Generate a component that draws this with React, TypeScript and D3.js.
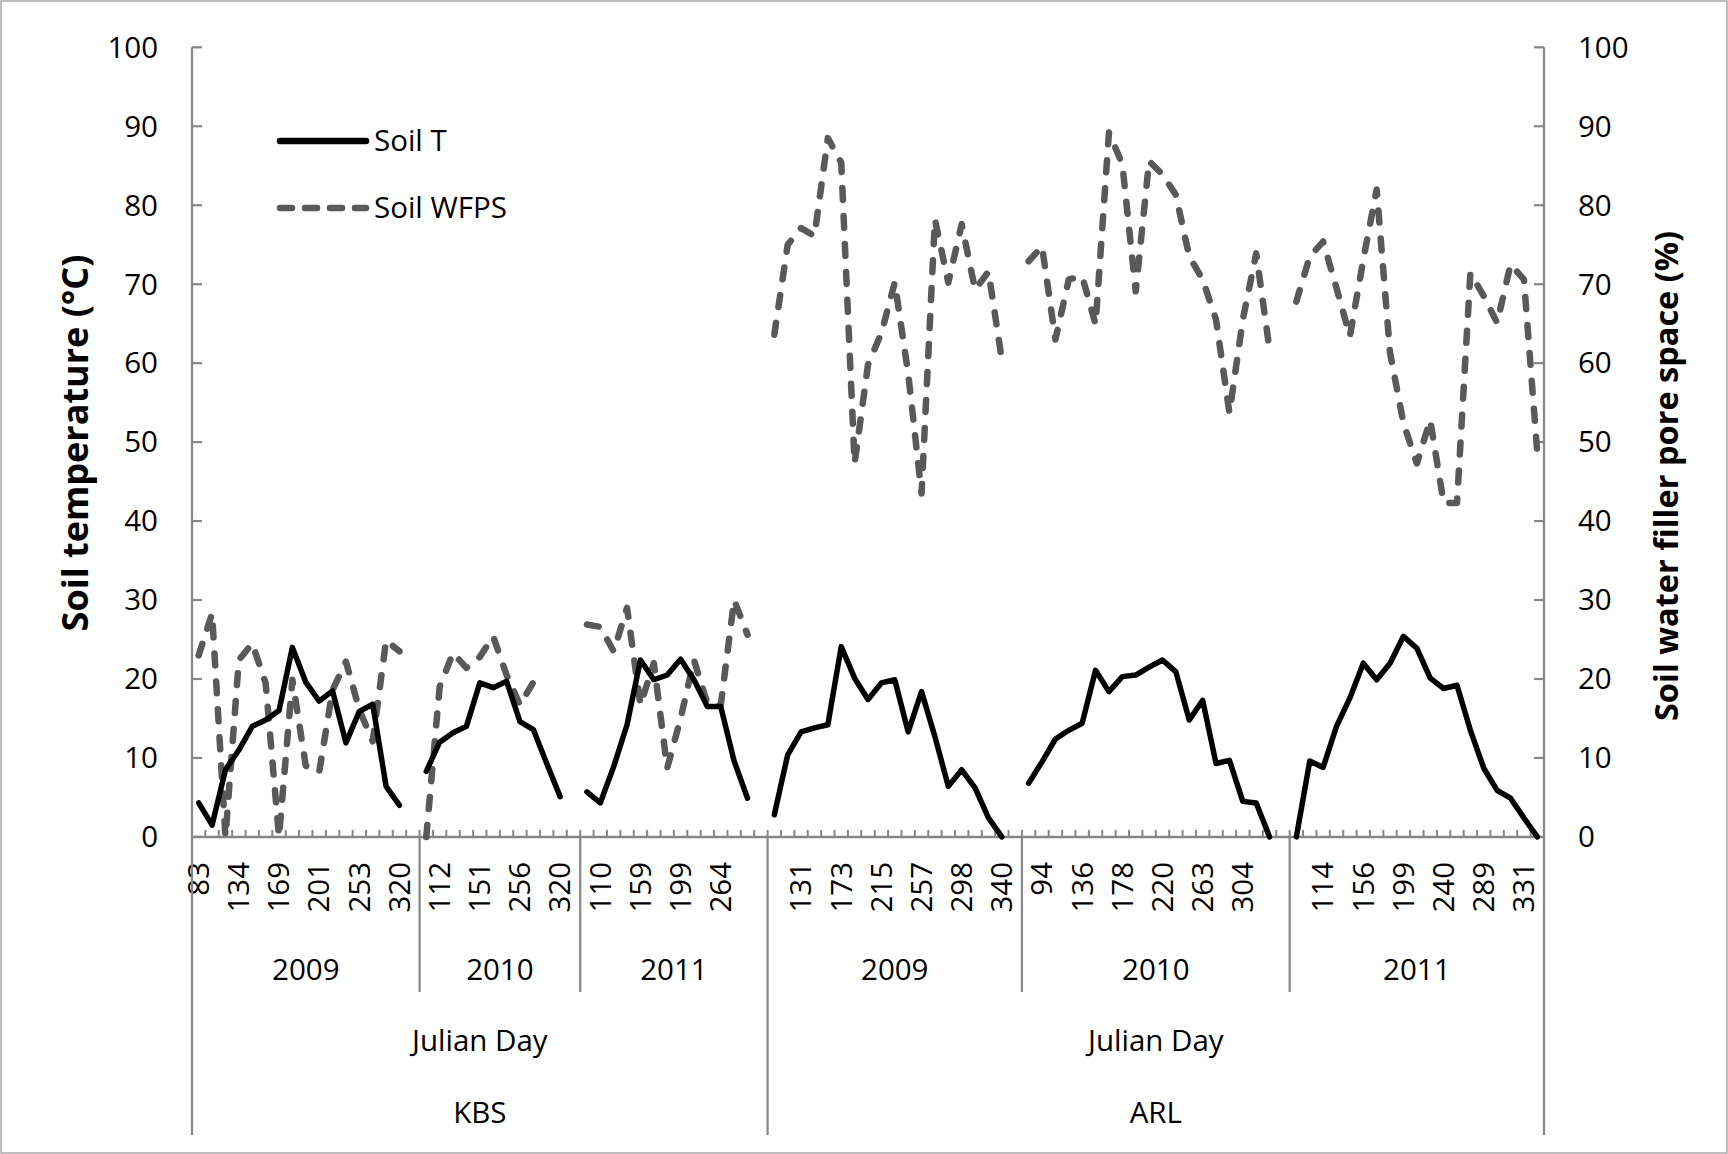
import React, { useRef, useEffect } from "react";
import * as d3 from "d3";

// category groups along the x axis (site / year), in plotting order
const groupSite = ["KBS", "KBS", "KBS", "ARL", "ARL", "ARL"];
const groupYear = ["2009", "2010", "2011", "2009", "2010", "2011"];
const groupSize = [17, 12, 14, 19, 20, 19];
const siteNames = ["KBS", "ARL"];

// Julian day labels, shown on every third category
const dayTicks = [
  "83", "134", "169", "201", "253", "320",
  "112", "151", "256", "320",
  "110", "159", "199", "264", "",
  "131", "173", "215", "257", "298", "340",
  "94", "136", "178", "220", "263", "304", "",
  "114", "156", "199", "240", "289", "331",
];

// soil temperature (°C), one value per category, null = no sample
const soilT = [
  4.3, 1.5, 8.5, 11.0, 14.0, 14.8, 16.0, 24.0, 19.6, 17.2, 18.5, 11.9, 15.9, 16.8, 6.4, 4.0, null,
  8.3, 12.0, 13.2, 14.0, 19.5, 18.9, 19.7, 14.6, 13.6, 9.3, 5.1, null,
  5.7, 4.3, 8.9, 14.2, 22.4, 19.9, 20.5, 22.5, 19.9, 16.5, 16.5, 9.6, 4.9, null,
  2.8, 10.4, 13.3, 13.8, 14.2, 24.1, 20.1, 17.4, 19.5, 19.9, 13.3, 18.4, 12.7, 6.4, 8.5, 6.2, 2.4, 0, null,
  6.8, 9.5, 12.4, 13.5, 14.4, 21.1, 18.4, 20.3, 20.5, 21.5, 22.4, 20.9, 14.8, 17.3, 9.3, 9.7, 4.5, 4.3, 0, null,
  0, 9.6, 8.8, 14.0, 17.6, 22.0, 19.9, 22.0, 25.4, 23.9, 20.1, 18.8, 19.2, 13.5, 8.7, 5.9, 4.9, 2.4, 0,
];

// soil water filled pore space (%)
const soilWFPS = [
  23.0, 28.3, 0, 22.4, 24.5, 19.5, 0, 19.9, 9.0, 8.2, 18.6, 22.2, 16.1, 12.1, 24.9, 23.5, null,
  0, 19.0, 23.3, 21.4, 22.8, 25.4, 20.5, 16.7, 19.6, 20.0, null, null,
  26.9, 26.6, 23.5, 29.0, 16.7, 22.0, 8.7, 15.0, 22.4, 16.9, 16.7, 30.0, 25.6, null,
  63.6, 75.0, 77.1, 76.1, 88.5, 85.4, 47.3, 59.8, 63.8, 70.2, 58.7, 43.5, 78.2, 70.2, 77.6, 69.3, 71.6, 60.4, null,
  72.9, 74.8, 63.0, 70.6, 71.0, 64.9, 89.2, 85.2, 69.1, 85.6, 83.9, 81.3, 73.5, 70.6, 65.5, 53.7, 65.5, 73.9, 61.7, null,
  67.8, 73.5, 75.4, 69.5, 63.4, 73.1, 82.0, 61.3, 52.4, 47.3, 52.8, 42.3, 42.3, 71.4, 68.5, 65.1, 72.5, 70.6, 48.6,
];

const yTicks = [0, 10, 20, 30, 40, 50, 60, 70, 80, 90, 100];

const App = () => {
  const wrapper = useRef(null);
  const width = 1728;
  const height = 1154;
  const left = 192;
  const right = 1544;
  const top = 47.3;
  const bottom = 836.9;
  const axisColor = "#868686";
  const font = "'Open Sans', sans-serif";

  useEffect(() => {
    d3.select(wrapper.current).selectAll("svg").remove();

    const svg = d3
      .select(wrapper.current)
      .append("svg")
      .attr("width", width)
      .attr("height", height)
      .style("position", "absolute")
      .style("left", 0)
      .style("top", 0)
      .style("font-family", font);

    svg
      .append("rect")
      .attr("x", 1)
      .attr("y", 1)
      .attr("width", width - 2)
      .attr("height", height - 2)
      .attr("fill", "white")
      .attr("stroke", "#a6a6a6")
      .attr("stroke-width", 1.5);

    const n = soilT.length;
    const x = d3
      .scaleBand()
      .domain(d3.range(n))
      .range([left, right])
      .paddingInner(0)
      .paddingOuter(0);
    const bw = x.bandwidth();
    const cx = (i) => x(i) + bw / 2;
    const y = d3.scaleLinear().domain([0, 100]).range([bottom, top]);

    const g = svg.append("g");

    // y axes
    [left, right].forEach((ax) => {
      g.append("line")
        .attr("x1", ax)
        .attr("x2", ax)
        .attr("y1", top)
        .attr("y2", bottom)
        .attr("stroke", axisColor)
        .attr("stroke-width", 2.2);
    });
    yTicks.forEach((t) => {
      g.append("line")
        .attr("x1", left)
        .attr("x2", left + 10)
        .attr("y1", y(t))
        .attr("y2", y(t))
        .attr("stroke", axisColor)
        .attr("stroke-width", 2.2);
      g.append("line")
        .attr("x1", right)
        .attr("x2", right - 10)
        .attr("y1", y(t))
        .attr("y2", y(t))
        .attr("stroke", axisColor)
        .attr("stroke-width", 2.2);
      g.append("text")
        .attr("x", left - 34)
        .attr("y", y(t))
        .attr("dy", "0.35em")
        .attr("text-anchor", "end")
        .attr("font-size", 29.5)
        .text(t);
      g.append("text")
        .attr("x", right + 34)
        .attr("y", y(t))
        .attr("dy", "0.35em")
        .attr("text-anchor", "start")
        .attr("font-size", 29.5)
        .text(t);
    });

    // x axis with a small tick at every category boundary
    g.append("line")
      .attr("x1", left)
      .attr("x2", right)
      .attr("y1", bottom)
      .attr("y2", bottom)
      .attr("stroke", axisColor)
      .attr("stroke-width", 2.5);
    d3.range(n + 1).forEach((k) => {
      const xx = left + k * bw;
      g.append("line")
        .attr("x1", xx)
        .attr("x2", xx)
        .attr("y1", bottom)
        .attr("y2", bottom - 7)
        .attr("stroke", axisColor)
        .attr("stroke-width", 2);
    });

    // day labels
    dayTicks.forEach((lab, k) => {
      const i = k * 3;
      if (!lab) return;
      g.append("text")
        .attr("transform", `translate(${cx(i)},${bottom + 25}) rotate(-90)`)
        .attr("dy", "0.35em")
        .attr("text-anchor", "end")
        .attr("font-size", 29.5)
        .text(lab);
    });

    // year and site groups
    const starts = [0];
    groupSize.forEach((s, k) => starts.push(starts[k] + s));
    groupYear.forEach((yr, k) => {
      const x0 = left + starts[k] * bw;
      const x1 = left + starts[k + 1] * bw;
      g.append("text")
        .attr("x", (x0 + x1) / 2)
        .attr("y", 970)
        .attr("dy", "0.35em")
        .attr("text-anchor", "middle")
        .attr("font-size", 29.5)
        .text(yr);
      const siteStart = k === 0 || groupSite[k - 1] !== groupSite[k];
      g.append("line")
        .attr("x1", x0)
        .attr("x2", x0)
        .attr("y1", bottom)
        .attr("y2", siteStart ? 1135 : 992)
        .attr("stroke", axisColor)
        .attr("stroke-width", 2.2);
    });
    g.append("line")
      .attr("x1", right)
      .attr("x2", right)
      .attr("y1", bottom)
      .attr("y2", 1135)
      .attr("stroke", axisColor)
      .attr("stroke-width", 2.2);

    siteNames.forEach((site) => {
      const ks = groupSite.map((s, k) => (s === site ? k : -1)).filter((k) => k >= 0);
      const x0 = left + starts[ks[0]] * bw;
      const x1 = left + starts[ks[ks.length - 1] + 1] * bw;
      g.append("text")
        .attr("x", (x0 + x1) / 2)
        .attr("y", 1041)
        .attr("dy", "0.35em")
        .attr("text-anchor", "middle")
        .attr("font-size", 29.5)
        .text("Julian Day");
      g.append("text")
        .attr("x", (x0 + x1) / 2)
        .attr("y", 1113)
        .attr("dy", "0.35em")
        .attr("text-anchor", "middle")
        .attr("font-size", 29.5)
        .text(site);
    });

    // series
    const line = d3
      .line()
      .defined((d) => d != null)
      .x((d, i) => cx(i))
      .y((d) => y(d));

    g.append("path")
      .attr("d", line(soilWFPS))
      .attr("fill", "none")
      .attr("stroke", "#595959")
      .attr("stroke-width", 6.5)
      .attr("stroke-dasharray", "12 16")
      .attr("stroke-linecap", "round")
      .attr("stroke-linejoin", "round");

    g.append("path")
      .attr("d", line(soilT))
      .attr("fill", "none")
      .attr("stroke", "#000")
      .attr("stroke-width", 5.5)
      .attr("stroke-linecap", "round")
      .attr("stroke-linejoin", "round");

    // legend
    const legend = [
      { name: "Soil T", color: "#000", dash: null, y: 141 },
      { name: "Soil WFPS", color: "#595959", dash: "12 13", y: 208 },
    ];
    legend.forEach((l) => {
      g.append("line")
        .attr("x1", 280)
        .attr("x2", 366)
        .attr("y1", l.y)
        .attr("y2", l.y)
        .attr("stroke", l.color)
        .attr("stroke-width", 6.5)
        .attr("stroke-linecap", "round")
        .attr("stroke-dasharray", l.dash);
      g.append("text")
        .attr("x", 374)
        .attr("y", l.y)
        .attr("dy", "0.35em")
        .attr("font-size", 29.5)
        .text(l.name);
    });

    // axis titles
    g.append("text")
      .attr("transform", `translate(75,443) rotate(-90)`)
      .attr("dy", "0.35em")
      .attr("text-anchor", "middle")
      .attr("font-size", 36)
      .attr("font-weight", "bold")
      .text("Soil temperature (°C)");
    g.append("text")
      .attr("transform", `translate(1667,476) rotate(-90)`)
      .attr("dy", "0.35em")
      .attr("text-anchor", "middle")
      .attr("font-size", 32.5)
      .attr("font-weight", "bold")
      .text("Soil water filler pore space (%)");
  }, []);

  return <div ref={wrapper}></div>;
};

export default App;
